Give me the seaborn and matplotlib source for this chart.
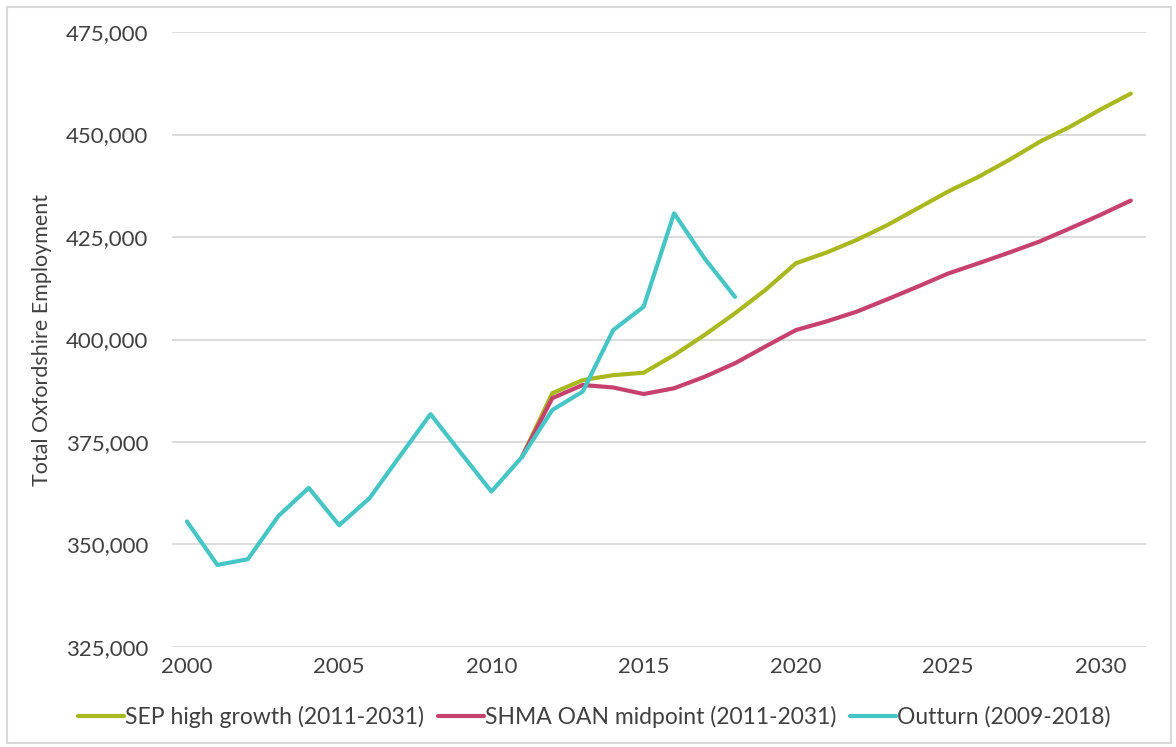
import matplotlib
matplotlib.use("Agg")
import matplotlib.pyplot as plt
import matplotlib.ticker as mticker
from matplotlib.patches import Rectangle
import pandas as pd
import seaborn as sns

# outturn, 2000-2018
outturn_years = list(range(2000, 2019))
outturn = [355600, 345000, 346400, 356900, 363800, 354700, 361300, 371600,
           381800, 372300, 362900, 371300, 382800, 387300, 402300, 408000,
           430800, 419800, 410400]

# projections, 2011-2031
proj_years = list(range(2011, 2032))
sep_high = [371300, 386900, 390100, 391300, 391900, 396200, 401100, 406400,
            412100, 418600, 421200, 424300, 427900, 432000, 436100, 439700,
            443800, 448200, 451900, 456100, 460000]
shma_mid = [371300, 385700, 388900, 388300, 386700, 388100, 390900, 394200,
            398300, 402300, 404400, 406800, 409800, 412900, 416100, 418600,
            421200, 423900, 427100, 430400, 433900]

series_names = ["SEP high growth (2011-2031)", "SHMA OAN midpoint (2011-2031)",
                "Outturn (2009-2018)"]
colours = ["#a8b81e", "#c6416d", "#45c5c6"]

df = pd.concat([
    pd.DataFrame({"year": proj_years, "value": sep_high, "series": series_names[0]}),
    pd.DataFrame({"year": proj_years, "value": shma_mid, "series": series_names[1]}),
    pd.DataFrame({"year": outturn_years, "value": outturn, "series": series_names[2]}),
])

sns.set_theme(style="white")
plt.rcParams["font.family"] = ["Lato", "DejaVu Sans"]
text_col = "#404040"

fig = plt.figure(figsize=(11.76, 7.47), dpi=100)
ax = fig.add_axes([0.146, 0.134, 0.8285, 0.823])

sns.lineplot(data=df, x="year", y="value", hue="series",
             hue_order=series_names, palette=colours,
             linewidth=3, ax=ax, legend=True)

ax.set_xlim(1999.5, 2031.5)
ax.set_ylim(325000, 475000)
ax.xaxis.set_major_locator(mticker.MultipleLocator(5))
ax.yaxis.set_major_locator(mticker.MultipleLocator(25000))
ax.yaxis.set_major_formatter(mticker.StrMethodFormatter("{x:,.0f}"))
ax.grid(axis="y", color="#d9d9d9", linewidth=1.3)
ax.set_axisbelow(True)
for s in ax.spines.values():
    s.set_visible(False)
ax.tick_params(axis="both", length=0, labelsize=16, colors=text_col)
ax.tick_params(axis="y", pad=17)
ax.tick_params(axis="x", pad=7)
ax.set_xlabel("")
ax.set_ylabel("Total Oxfordshire Employment", fontsize=15.5, color=text_col, labelpad=10)

ax.legend(loc="upper center", bbox_to_anchor=(0.434, -0.062), ncol=3,
          frameon=False, fontsize=16.5, handlelength=2.0, handletextpad=0.05,
          columnspacing=0.6, labelcolor=text_col)

# chart border
fig.patches.append(Rectangle((0.006, 0.006), 0.99, 0.985, transform=fig.transFigure,
                             fill=False, edgecolor="#d9d9d9", linewidth=1.5))

fig.savefig("out.png", dpi=100)
